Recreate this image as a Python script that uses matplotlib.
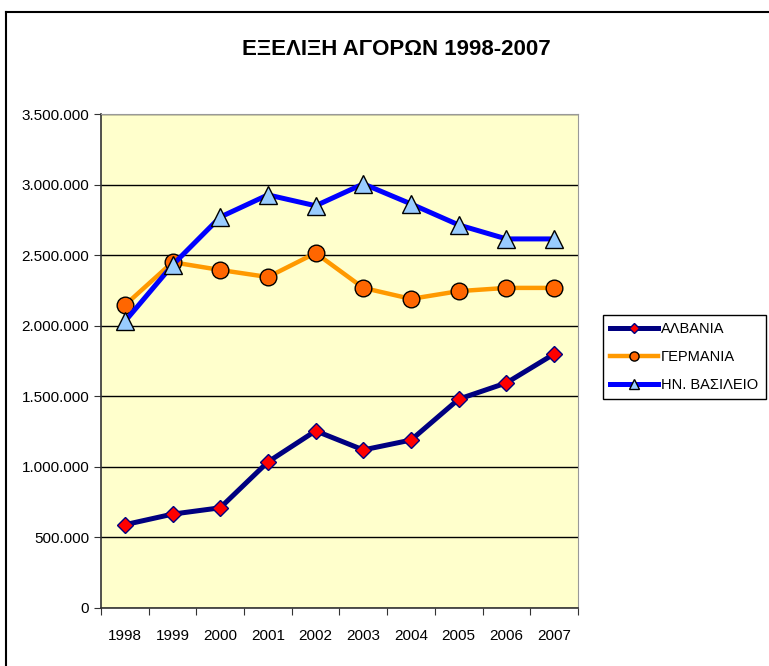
import matplotlib.pyplot as plt
from matplotlib.lines import Line2D
from matplotlib.ticker import FuncFormatter, MultipleLocator

plt.rcParams['font.family'] = ['Liberation Sans', 'DejaVu Sans']

years = ["1998", "1999", "2000", "2001", "2002", "2003", "2004", "2005", "2006", "2007"]
albania = [590000, 665000, 710000, 1035000, 1255000, 1120000, 1190000, 1480000, 1595000, 1800000]
germania = [2145000, 2450000, 2395000, 2345000, 2515000, 2268000, 2190000, 2245000, 2268000, 2268000]
uk = [2030000, 2430000, 2770000, 2927000, 2850000, 3005000, 2863000, 2714000, 2615000, 2615000]

fig = plt.figure(figsize=(7.69, 6.66), dpi=100)
ax = fig.add_axes([0.1313, 0.0871, 0.6203, 0.7417])
ax.set_facecolor("#FFFFCC")

styles = [
    dict(color="#000080", lw=3.6, marker="D", mfc="#FF0000", mec="#000080"),
    dict(color="#FF9900", lw=3.2, marker="o", mfc="#FF6600", mec="black"),
    dict(color="#0000FF", lw=3.6, marker="^", mfc="#99CCFF", mec="black"),
]
sizes = [8.5, 12, 13]
names = ["ΑΛΒΑΝΙΑ", "ΓΕΡΜΑΝΙΑ", "ΗΝ. ΒΑΣΙΛΕΙΟ"]

x = list(range(len(years)))
for data, st, ms in zip([albania, germania, uk], styles, sizes):
    ax.plot(x, data, markersize=ms, markeredgewidth=1, **st)

ax.set_xlim(-0.5, len(years) - 0.5)
ax.set_ylim(0, 3500000)
ax.yaxis.set_major_locator(MultipleLocator(500000))
ax.yaxis.set_major_formatter(FuncFormatter(lambda v, p: f"{int(v):,}".replace(",", ".")))
ax.grid(axis="y", color="black", lw=1)
ax.set_axisbelow(True)

ax.set_xticks([i - 0.5 for i in range(len(years) + 1)], minor=False)
ax.set_xticklabels([])
ax.set_xticks(x, minor=True)
ax.set_xticklabels(years, minor=True)
ax.tick_params(axis="x", which="major", length=5, direction="out", color="#333333")
ax.tick_params(axis="x", which="minor", length=0, labelsize=11, pad=15)
ax.tick_params(axis="y", length=5, direction="out", labelsize=11, color="#333333")

for s in ["top", "right"]:
    ax.spines[s].set_color("#999999")
for s in ["left", "bottom"]:
    ax.spines[s].set_color("#333333")
    ax.spines[s].set_linewidth(1.2)

fig.text(0.515, 0.925, "ΕΞΕΛΙΞΗ ΑΓΟΡΩΝ 1998-2007", ha="center", va="center",
         fontsize=16, fontweight="bold")

handles = [Line2D([], [], markersize=ms * 0.55, markeredgewidth=1, **st)
           for st, ms in zip(styles, sizes)]
leg = fig.legend(handles, names, loc="upper left", bbox_to_anchor=(0.784, 0.527), fontsize=10.5,
                 frameon=True, fancybox=False, edgecolor="black", framealpha=1,
                 handlelength=3.3, borderpad=0.5, labelspacing=0.95, handletextpad=0.2,
                 borderaxespad=0)
leg.get_frame().set_linewidth(1)

# outer chart frame
fig.add_artist(Line2D([6 / 769, 1], [1 - 12 / 666, 1 - 12 / 666], transform=fig.transFigure,
                      color="black", lw=1.5))
fig.add_artist(Line2D([6 / 769, 6 / 769], [0, 1 - 12 / 666], transform=fig.transFigure,
                      color="black", lw=1.5))

fig.savefig("out.png", dpi=100)
